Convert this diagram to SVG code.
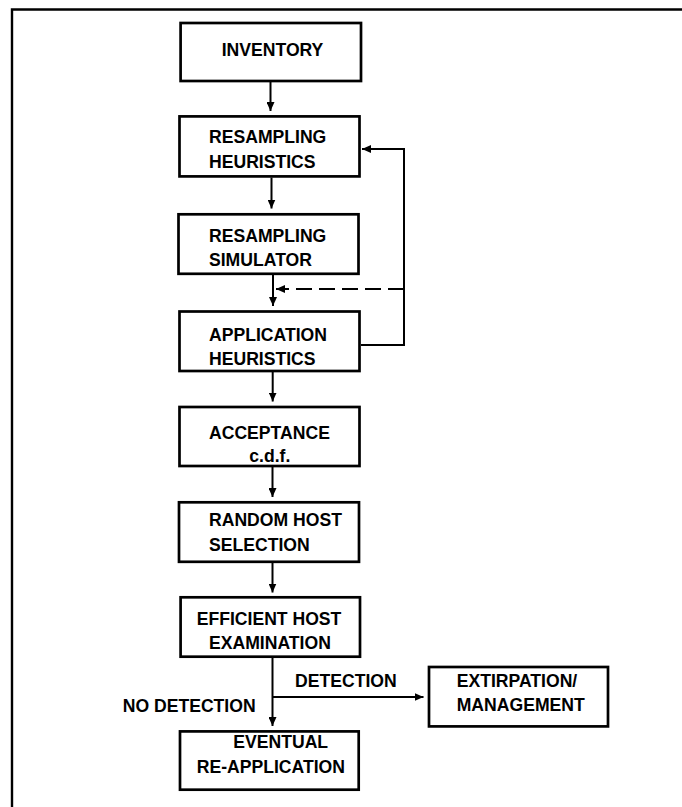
<svg xmlns="http://www.w3.org/2000/svg" width="682" height="807" viewBox="0 0 682 807">
  <style>
    .box { fill: #fff; stroke: #000; stroke-width: 2.7; }
    .lbl { font-family: "Liberation Sans", Arial, Helvetica, sans-serif; font-weight: bold; font-size: 17.6px; fill: #000; }
    .wire { fill: none; stroke: #000; stroke-width: 2; }
    .dash { stroke-dasharray: 16 7; }
  </style>
  <defs>
    <marker id="head" markerUnits="userSpaceOnUse" markerWidth="9" markerHeight="8" refX="9" refY="4" orient="auto">
      <path d="M0,0 L9,4 L0,8 z" fill="#000"/>
    </marker>
  </defs>

  <!-- outer frame -->
  <path d="M12,812 V9.5 H690" fill="none" stroke="#000" stroke-width="2.4"/>

  <!-- connectors -->
  <g id="connectors">
    <path class="wire" d="M270.5,82 V111" marker-end="url(#head)"/>
    <path class="wire" d="M271.5,177.5 V208.5" marker-end="url(#head)"/>
    <path class="wire" d="M273,275 V306" marker-end="url(#head)"/>
    <path class="wire dash" d="M404,289 H276" marker-end="url(#head)"/>
    <path class="wire" d="M361,345 H404 V149 H362" marker-end="url(#head)"/>
    <path class="wire" d="M272.7,372 V401.5" marker-end="url(#head)"/>
    <path class="wire" d="M272.5,467 V497" marker-end="url(#head)"/>
    <path class="wire" d="M272.5,563 V592.5" marker-end="url(#head)"/>
    <path class="wire" d="M272.5,658 V726" marker-end="url(#head)"/>
    <path class="wire" d="M272.5,697 H423.5" marker-end="url(#head)"/>
    <text class="lbl" x="295" y="686.7">DETECTION</text>
    <text class="lbl" x="122.7" y="711.7">NO DETECTION</text>
  </g>

  <g id="inventory">
    <rect class="box" x="180.6" y="23" width="180.4" height="58"/>
    <text class="lbl" x="221.7" y="55.7">INVENTORY</text>
  </g>

  <g id="resampling-heuristics">
    <rect class="box" x="179.5" y="116.4" width="180" height="60"/>
    <text class="lbl" x="209" y="142.7">RESAMPLING</text>
    <text class="lbl" x="209" y="167.7">HEURISTICS</text>
  </g>

  <g id="resampling-simulator">
    <rect class="box" x="178.5" y="214.3" width="180" height="59.5"/>
    <text class="lbl" x="209" y="241.7">RESAMPLING</text>
    <text class="lbl" x="209" y="265.7">SIMULATOR</text>
  </g>

  <g id="application-heuristics">
    <rect class="box" x="179.5" y="311.5" width="180" height="59.5"/>
    <text class="lbl" x="209" y="340.7">APPLICATION</text>
    <text class="lbl" x="209" y="365">HEURISTICS</text>
  </g>

  <g id="acceptance">
    <rect class="box" x="179.5" y="407" width="180" height="59"/>
    <text class="lbl" x="209" y="439.3">ACCEPTANCE</text>
    <text class="lbl" x="249.3" y="462.3">c.d.f.</text>
  </g>

  <g id="random-host-selection">
    <rect class="box" x="179" y="502.3" width="180" height="59.5"/>
    <text class="lbl" x="209" y="525.7">RANDOM HOST</text>
    <text class="lbl" x="209" y="550.7">SELECTION</text>
  </g>

  <g id="efficient-host-examination">
    <rect class="box" x="180.6" y="597.3" width="179.4" height="59.4"/>
    <text class="lbl" x="196.7" y="625">EFFICIENT HOST</text>
    <text class="lbl" x="209" y="649.3">EXAMINATION</text>
  </g>

  <g id="extirpation-management">
    <rect class="box" x="429" y="667" width="179" height="59.4"/>
    <text class="lbl" x="456.7" y="686.7">EXTIRPATION/</text>
    <text class="lbl" x="456.7" y="711">MANAGEMENT</text>
  </g>

  <g id="eventual-reapplication">
    <rect class="box" x="180" y="731.4" width="178.7" height="58.3"/>
    <text class="lbl" x="233.3" y="748.3">EVENTUAL</text>
    <text class="lbl" x="196.7" y="773.3">RE-APPLICATION</text>
  </g>
</svg>
